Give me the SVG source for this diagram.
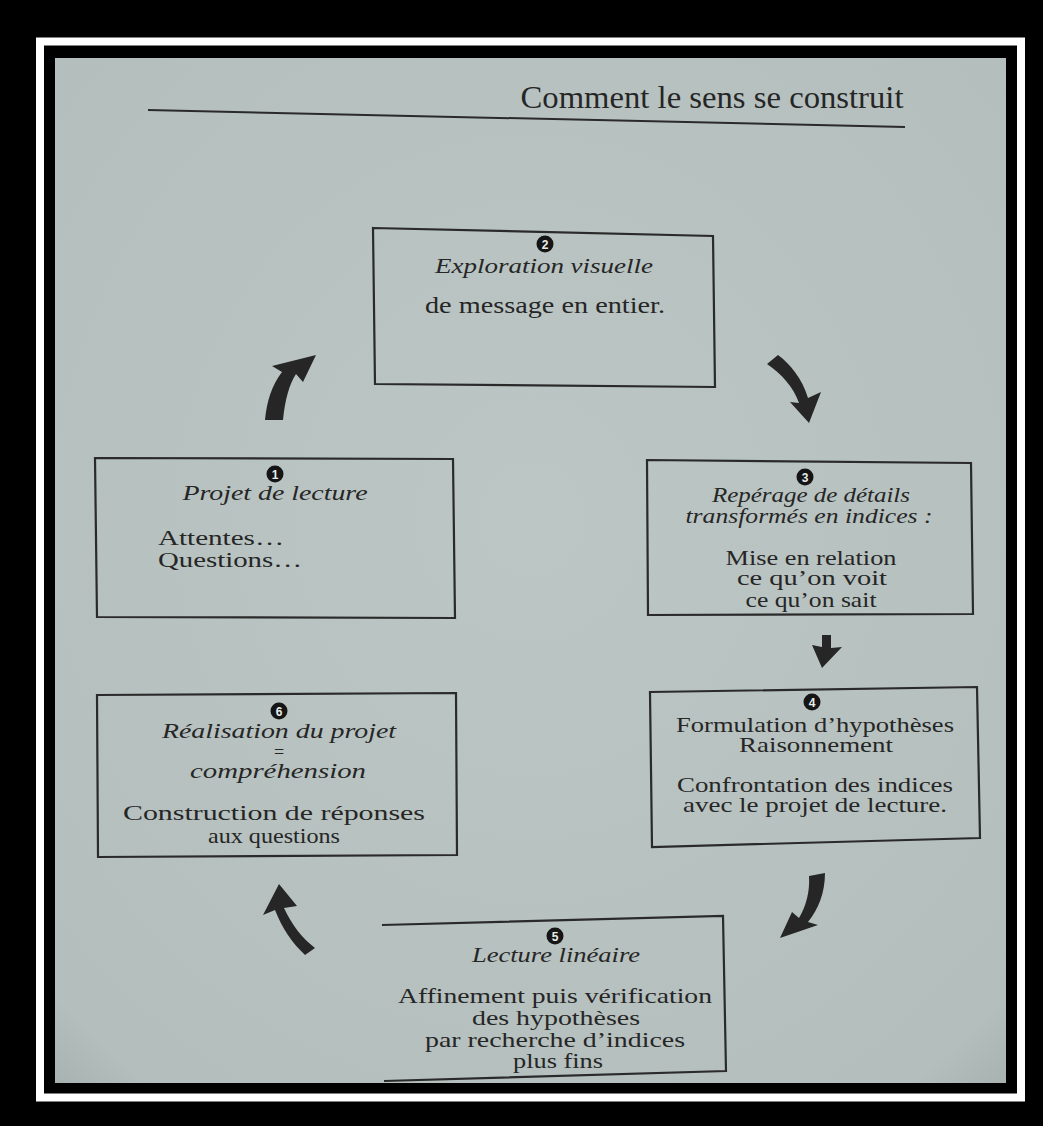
<svg xmlns="http://www.w3.org/2000/svg" width="1043" height="1126" viewBox="0 0 1043 1126">
<defs>
<style>
.t{font-family:"Liberation Serif","Times New Roman",serif;font-size:21px;fill:#262626;text-anchor:middle}
.i{font-style:italic}
.l{text-anchor:start}
.box{fill:none;stroke:#2a2a2a;stroke-width:2.2}
.num{fill:#151515}
.nt{font-family:"Liberation Sans",Arial,sans-serif;font-size:12px;font-weight:bold;fill:#e8ecea;text-anchor:middle}
.arr{fill:#262626}
</style>
<radialGradient id="pg" cx="0.5" cy="0.45" r="0.8">
<stop offset="0" stop-color="#bcc6c4"/>
<stop offset="0.85" stop-color="#b4bfbd"/>
<stop offset="1" stop-color="#9da8a6"/>
</radialGradient>
</defs>
<rect width="1043" height="1126" fill="#000"/>
<rect x="40" y="41.5" width="981" height="1056" fill="none" stroke="#fff" stroke-width="8"/>
<rect x="55" y="58" width="951" height="1025" fill="url(#pg)"/>
<g id="header">
<text x="712" y="108" class="t" style="font-size:32px" textLength="383" lengthAdjust="spacingAndGlyphs">Comment le sens se construit</text>
<path d="M148,110 L905,127" stroke="#2a2a2a" stroke-width="2" fill="none"/>
</g>
<g id="node2">
<path class="box" d="M373,228 L713,236 L715,387 L375,384 Z"/>
<circle class="num" cx="545" cy="244" r="8.5"/>
<text class="nt" x="545" y="248.5">2</text>
<text class="t i" x="544" y="273" style="font-size:22px" textLength="218" lengthAdjust="spacingAndGlyphs">Exploration visuelle</text>
<text class="t" x="545" y="313" style="font-size:24px" textLength="240" lengthAdjust="spacingAndGlyphs">de message en entier.</text>
</g>
<g id="node1">
<path class="box" d="M95,458 L453,459 L455,618 L97,617 Z"/>
<circle class="num" cx="275" cy="474" r="8.5"/>
<text class="nt" x="275" y="478.5">1</text>
<text class="t i" x="275" y="500" style="font-size:22px" textLength="185" lengthAdjust="spacingAndGlyphs">Projet de lecture</text>
<text class="t l" x="158" y="545" textLength="126" lengthAdjust="spacingAndGlyphs">Attentes…</text>
<text class="t l" x="158" y="567" textLength="144" lengthAdjust="spacingAndGlyphs">Questions…</text>
</g>
<g id="node3">
<path class="box" d="M647,460 L971,463 L973,614 L648,615 Z"/>
<circle class="num" cx="805" cy="477" r="8.5"/>
<text class="nt" x="805" y="481.5">3</text>
<text class="t i" x="811" y="502" textLength="198" lengthAdjust="spacingAndGlyphs">Repérage de détails</text>
<text class="t i" x="809" y="523" textLength="247" lengthAdjust="spacingAndGlyphs">transformés en indices :</text>
<text class="t" x="811" y="565" textLength="171" lengthAdjust="spacingAndGlyphs">Mise en relation</text>
<text class="t" x="812" y="585" textLength="150" lengthAdjust="spacingAndGlyphs">ce qu’on voit</text>
<text class="t" x="811" y="607" textLength="131" lengthAdjust="spacingAndGlyphs">ce qu’on sait</text>
</g>
<g id="node4">
<path class="box" d="M650,692 L977,687 L980,838 L652,847 Z"/>
<circle class="num" cx="812" cy="702" r="8.5"/>
<text class="nt" x="812" y="706.5">4</text>
<text class="t" x="815" y="732" textLength="278" lengthAdjust="spacingAndGlyphs">Formulation d’hypothèses</text>
<text class="t" x="816" y="752" textLength="154" lengthAdjust="spacingAndGlyphs">Raisonnement</text>
<text class="t" x="815" y="792" textLength="276" lengthAdjust="spacingAndGlyphs">Confrontation des indices</text>
<text class="t" x="815" y="812" textLength="264" lengthAdjust="spacingAndGlyphs">avec le projet de lecture.</text>
</g>
<g id="node6">
<path class="box" d="M97,695 L456,693 L457,855 L98,857 Z"/>
<circle class="num" cx="279" cy="711" r="8.5"/>
<text class="nt" x="279" y="715.5">6</text>
<text class="t i" x="279" y="738" textLength="234" lengthAdjust="spacingAndGlyphs">Réalisation du projet</text>
<text class="t" x="279" y="758" style="font-size:18px">=</text>
<text class="t i" x="278" y="778" textLength="176" lengthAdjust="spacingAndGlyphs">compréhension</text>
<text class="t" x="274" y="820" textLength="302" lengthAdjust="spacingAndGlyphs">Construction de réponses</text>
<text class="t" x="274" y="843" textLength="132" lengthAdjust="spacingAndGlyphs">aux questions</text>
</g>
<g id="node5">
<path class="box" d="M382,925 L723,916 L726,1071 L384,1081"/>
<circle class="num" cx="555" cy="936" r="8.5"/>
<text class="nt" x="555" y="940.5">5</text>
<text class="t i" x="556" y="962" textLength="168" lengthAdjust="spacingAndGlyphs">Lecture linéaire</text>
<text class="t" x="555" y="1003" textLength="314" lengthAdjust="spacingAndGlyphs">Affinement puis vérification</text>
<text class="t" x="556" y="1025" textLength="168" lengthAdjust="spacingAndGlyphs">des hypothèses</text>
<text class="t" x="555" y="1047" textLength="260" lengthAdjust="spacingAndGlyphs">par recherche d’indices</text>
<text class="t" x="558" y="1068" textLength="90" lengthAdjust="spacingAndGlyphs">plus fins</text>
</g>
<g id="connectors">
<path class="arr" d="M265,420 C267,400 272,385 282,372 L272,366 L316,355 L303,382 L296,374 C289,385 285,400 283,420 Z"/>
<path class="arr" d="M767,364 L778,355 C790,364 802,378 808,398 L821,392 L809,423 L790,402 L799,403 C794,388 782,374 767,364 Z"/>
<path class="arr" d="M822,635 L831,635 L831,648 L842,647 L822,668 L812,645 L822,647 Z"/>
<path class="arr" d="M809,876 L825,873 C825,893 818,910 808,922 L818,925 L780,938 L792,912 L799,918 C806,906 810,892 809,876 Z"/>
<path class="arr" d="M279,884 L297,906 L284,908 C292,925 302,938 315,948 L305,955 C292,943 282,928 275,910 L263,915 Z"/>
</g>
</svg>
